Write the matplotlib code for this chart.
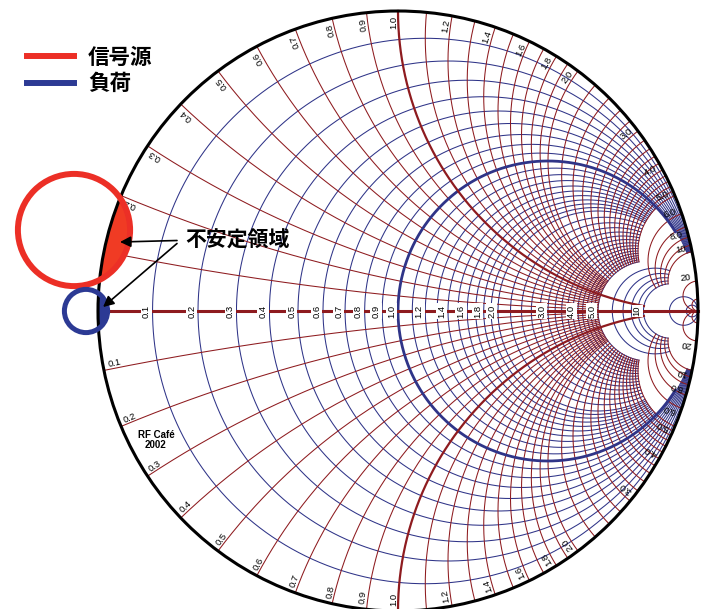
import numpy as np
import matplotlib.pyplot as plt
from matplotlib.patches import Circle
from matplotlib.lines import Line2D

plt.rcParams['font.family'] = ['Noto Sans CJK JP', 'DejaVu Sans']

# resistance circles (blue) and the reactance they run to
r_fine_a = [0.1, 0.2, 0.3, 0.4, 0.5, 0.6, 0.7, 0.8, 0.9]
r_fine_b = [1.1, 1.2, 1.3, 1.4, 1.5, 1.6, 1.7, 1.8, 1.9, 2.0]
r_fine_c = [2.2, 2.4, 2.6, 2.8, 3.0, 3.2, 3.4, 3.6, 3.8, 4.0, 4.2, 4.4, 4.6, 4.8, 5.0]
r_coarse = [6, 7, 8, 9, 10]
r_big = [20, 50]

# reactance arcs (red)
x_fine_a = [0.1, 0.2, 0.3, 0.4, 0.5, 0.6, 0.7, 0.8, 0.9]
x_fine_b = [1.1, 1.2, 1.3, 1.4, 1.5, 1.6, 1.7, 1.8, 1.9, 2.0]
x_fine_c = [2.2, 2.4, 2.6, 2.8, 3.0, 3.2, 3.4, 3.6, 3.8, 4.0, 4.2, 4.4, 4.6, 4.8, 5.0]
x_coarse = [6, 7, 8, 9, 10]
x_big = [20, 50]

r_labels = [0.1, 0.2, 0.3, 0.4, 0.5, 0.6, 0.7, 0.8, 0.9, 1.0, 1.2, 1.4, 1.6, 1.8, 2.0, 3.0, 4.0, 5.0, 10]
x_labels = [0.1, 0.2, 0.3, 0.4, 0.5, 0.6, 0.7, 0.8, 0.9, 1.0, 1.2, 1.4, 1.6, 1.8, 2.0,
            3.0, 4.0, 5.0, 6.0, 8.0, 10, 20]

# stability circles in the reflection plane
src_center = (-1.08, 0.27)
src_radius = 0.187
load_center = (-1.04, 0.0)
load_radius = 0.072

RED = '#8e1b1f'
BLUE = '#2f3488'
SRC = '#ec2f26'
LOAD = '#2c3a94'


def gam(z):
    return (z - 1) / (z + 1)


def r_arc(ax, r, xmax, **kw):
    t = np.linspace(-np.arctan(xmax), np.arctan(xmax), 600)
    g = gam(r + 1j * np.tan(t))
    ax.plot(g.real, g.imag, **kw)


def x_arc(ax, x, rmax, **kw):
    t = np.linspace(0, np.arctan(rmax), 600)
    for s in (1, -1):
        g = gam(np.tan(t) + 1j * s * x)
        ax.plot(g.real, g.imag, **kw)


fig = plt.figure(figsize=(7.04, 6.09), dpi=100)
ax = fig.add_axes([0, 0, 1, 1])
ax.set_xlim(-398 / 300, 306 / 300)
ax.set_ylim(-298 / 300, 311 / 300)
ax.axis('off')

thin = dict(lw=0.75, zorder=2)
for vals, lim in [(r_fine_a, 10), (r_fine_b, 5), (r_fine_c, 5), (r_coarse, 10), (r_big, 1e6)]:
    for r in vals:
        r_arc(ax, r, lim, color=BLUE, **thin)
for vals, lim in [(x_fine_a, 5), (x_fine_b, 5), (x_fine_c, 5), (x_coarse, 10), (x_big, 1e6)]:
    for x in vals:
        x_arc(ax, x, lim, color=RED, **thin)

r_arc(ax, 1.0, 7, color=BLUE, lw=2.0, zorder=3)
x_arc(ax, 1.0, 10, color=RED, lw=1.6, zorder=3)
ax.plot([-1, 1], [0, 0], color=RED, lw=2.2, zorder=3)

lab = dict(fontsize=6.8, family=['Liberation Sans', 'DejaVu Sans'], zorder=4)
for r in r_labels:
    txt = f'{r:.1f}' if r < 10 else f'{r:g}'
    ax.text(gam(r) - 0.006, 0, txt, rotation=90, ha='right', va='center',
            bbox=dict(boxstyle='square,pad=0.12', fc='white', ec='none'), **lab)
for x in x_labels:
    txt = f'{x:.1f}' if x < 10 else f'{x:g}'
    for s in (1, -1):
        g = gam(1j * s * x)
        th = np.degrees(np.angle(g))
        p = 0.984 * g
        if s > 0:
            ax.text(p.real, p.imag, txt, rotation=th, ha='right', va='bottom',
                    rotation_mode='anchor', **lab)
        else:
            ax.text(p.real, p.imag, txt, rotation=th + 180, ha='left', va='bottom',
                    rotation_mode='anchor', **lab)

# unstable regions: stability circle inside the chart
unit = Circle((0, 0), 1, transform=ax.transData, fc='none', ec='none')
ax.add_patch(unit)
fill_s = Circle(src_center, src_radius, fc='#f03b24', ec='none', zorder=5)
fill_l = Circle(load_center, load_radius, fc=LOAD, ec='none', zorder=5)
for p in (fill_s, fill_l):
    ax.add_patch(p)
    p.set_clip_path(unit)

ax.add_patch(Circle((0, 0), 1, fc='none', ec='black', lw=2.2, zorder=6))
ax.add_patch(Circle(src_center, src_radius, fc='none', ec=SRC, lw=4.3, zorder=7))
ax.add_patch(Circle(load_center, load_radius, fc='none', ec=LOAD, lw=3.6, zorder=7))

ax.text(-0.8067, -0.43, 'RF Café\n2002', ha='center', va='center', fontsize=7,
        fontweight='bold', family=['Liberation Sans', 'DejaVu Sans'], linespacing=1.1, zorder=4)

ax.text(-0.71, 0.237, '不安定領域', fontsize=15, fontweight='bold', ha='left', va='center', zorder=8)
arrow = dict(arrowstyle='-|>', color='black', lw=1.2, mutation_scale=16, shrinkA=0, shrinkB=0)
ax.annotate('', xy=(-0.9267, 0.23), xytext=(-0.7367, 0.235), arrowprops=arrow, zorder=8)
ax.annotate('', xy=(-0.983, 0.0133), xytext=(-0.7367, 0.225), arrowprops=arrow, zorder=8)

handles = [Line2D([], [], color=SRC, lw=4.3), Line2D([], [], color=LOAD, lw=4.3)]
ax.legend(handles, ['信号源', '負荷'], loc='upper left', bbox_to_anchor=(0.038, 0.923),
          frameon=False, handlelength=2.2, handletextpad=0.65,
          labelspacing=0.25, borderpad=0, borderaxespad=0,
          prop=dict(weight='bold', size=15.5))

fig.savefig('out.png', dpi=100)
